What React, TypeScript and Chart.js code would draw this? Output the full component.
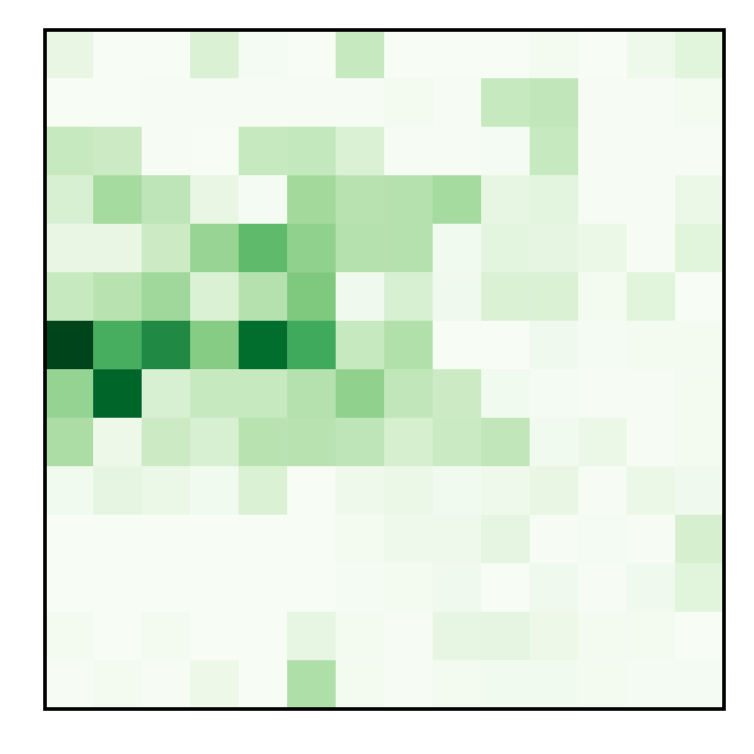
import React, { useEffect, useRef } from "react";
import { Chart, registerables } from "chart.js";

Chart.register(...registerables);

// 14 columns x 14 rows, normalized 0..1, rows listed top to bottom
const columns = ["0", "1", "2", "3", "4", "5", "6", "7", "8", "9", "10", "11", "12", "13"];
const row0 = [0.1, 0.0, 0.0, 0.17, 0.02, 0.0, 0.25, 0.0, 0.0, 0.0, 0.03, 0.0, 0.06, 0.14];
const row1 = [0.0, 0.0, 0.01, 0.01, 0.01, 0.01, 0.01, 0.03, 0.01, 0.25, 0.27, 0.01, 0.01, 0.03];
const row2 = [0.25, 0.23, 0.01, 0.0, 0.25, 0.26, 0.17, 0.01, 0.01, 0.02, 0.25, 0.01, 0.01, 0.01];
const row3 = [0.18, 0.36, 0.28, 0.1, 0.02, 0.37, 0.3, 0.31, 0.36, 0.11, 0.13, 0.01, 0.01, 0.08];
const row4 = [0.1, 0.1, 0.23, 0.4, 0.55, 0.42, 0.31, 0.31, 0.04, 0.13, 0.12, 0.08, 0.01, 0.14];
const row5 = [0.25, 0.3, 0.38, 0.17, 0.31, 0.47, 0.05, 0.18, 0.05, 0.17, 0.17, 0.03, 0.14, 0.0];
const row6 = [1.0, 0.61, 0.76, 0.45, 0.87, 0.63, 0.25, 0.32, 0.0, 0.0, 0.05, 0.02, 0.03, 0.03];
const row7 = [0.41, 0.9, 0.18, 0.25, 0.25, 0.31, 0.42, 0.27, 0.23, 0.04, 0.02, 0.01, 0.01, 0.03];
const row8 = [0.34, 0.07, 0.23, 0.18, 0.3, 0.3, 0.28, 0.19, 0.24, 0.27, 0.04, 0.08, 0.01, 0.03];
const row9 = [0.04, 0.12, 0.08, 0.04, 0.17, 0.0, 0.06, 0.08, 0.04, 0.06, 0.1, 0.01, 0.08, 0.05];
const row10 = [0.0, 0.0, 0.0, 0.0, 0.0, 0.0, 0.03, 0.06, 0.06, 0.12, 0.01, 0.02, 0.01, 0.19];
const row11 = [0.0, 0.0, 0.0, 0.0, 0.0, 0.0, 0.02, 0.03, 0.05, 0.0, 0.05, 0.01, 0.05, 0.14];
const row12 = [0.03, 0.0, 0.03, 0.0, 0.0, 0.11, 0.03, 0.01, 0.11, 0.12, 0.07, 0.03, 0.03, 0.0];
const row13 = [0.01, 0.03, 0.01, 0.07, 0.0, 0.33, 0.03, 0.01, 0.03, 0.04, 0.04, 0.03, 0.02, 0.02];
const rows = [row0, row1, row2, row3, row4, row5, row6, row7, row8, row9, row10, row11, row12, row13];

// matplotlib "Greens" anchors
const greens: [number, number, number][] = [
  [247, 252, 245],
  [229, 245, 224],
  [199, 233, 192],
  [161, 217, 155],
  [116, 196, 118],
  [65, 171, 93],
  [35, 139, 69],
  [0, 109, 44],
  [0, 68, 27],
];

function greensColor(v: number): string {
  const t = Math.max(0, Math.min(1, v)) * (greens.length - 1);
  const i = Math.min(greens.length - 2, Math.floor(t));
  const f = t - i;
  const a = greens[i];
  const b = greens[i + 1];
  const c = a.map((x, k) => Math.round(x + (b[k] - x) * f));
  return `rgb(${c[0]},${c[1]},${c[2]})`;
}

const framePlugin = {
  id: "frame",
  afterDraw(chart: any) {
    const { ctx, chartArea } = chart;
    ctx.save();
    ctx.strokeStyle = "#000";
    ctx.lineWidth = 3.6;
    ctx.strokeRect(chartArea.left, chartArea.top, chartArea.right - chartArea.left, chartArea.bottom - chartArea.top);
    ctx.restore();
  },
};

export default function App() {
  const ref = useRef<HTMLCanvasElement | null>(null);

  useEffect(() => {
    if (!ref.current) return;
    const n = rows.length;
    const datasets = rows
      .slice()
      .reverse()
      .map((r, idx) => ({
        label: `row ${n - 1 - idx}`,
        data: r.map(() => 1),
        backgroundColor: r.map((v) => greensColor(v)),
        borderWidth: 0,
        barPercentage: 1.0,
        categoryPercentage: 1.0,
      }));

    const chart = new Chart(ref.current, {
      type: "bar",
      data: { labels: columns, datasets },
      options: {
        animation: false,
        responsive: false,
        maintainAspectRatio: false,
        layout: { padding: { left: 45, top: 30, right: 30, bottom: 45 } },
        plugins: { legend: { display: false }, tooltip: { enabled: false } },
        scales: {
          x: { stacked: true, display: false, offset: true },
          y: { stacked: true, display: false, min: 0, max: n },
        },
      },
      plugins: [framePlugin],
    });
    return () => chart.destroy();
  }, []);

  return (
    <div style={{ position: "fixed", left: 0, top: 0, width: 754, height: 754, background: "#fff" }}>
      <canvas ref={ref} width={754} height={754} style={{ width: 754, height: 754 }} />
    </div>
  );
}
